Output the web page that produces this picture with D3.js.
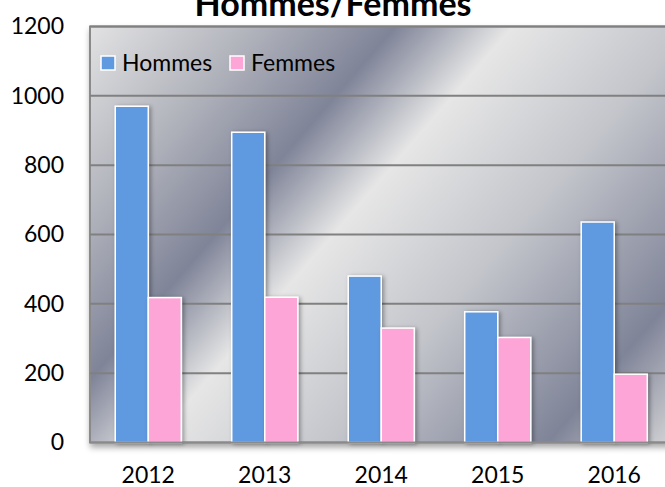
<!DOCTYPE html>
<html lang="fr">
<head>
<meta charset="UTF-8">
<title>Hommes/Femmes</title>
<style>
  body { margin: 0; background: #fff; }
  svg text { font-family: Lato, "Open Sans", sans-serif; fill: #000; }
</style>
</head>
<body>
<script src="https://cdn.jsdelivr.net/npm/d3@7"></script>
<script>

var years = ["2012", "2013", "2014", "2015", "2016"];
var series = ["Hommes", "Femmes"];
var hommes = [970, 895, 480, 377, 636];
var femmes = [418, 419, 330, 303, 197];
var yTicks = [0, 200, 400, 600, 800, 1000, 1200];

var colors = { Hommes: "#5f99e0", Femmes: "#fea5d8" };

var width = 665, height = 487;
// plot box (right edge runs past the window, as in the original)
var plotLeft = 90, plotRight = 672.5, plotTop = 26.5, plotBottom = 442.5;

var svg = d3.select("body").append("svg")
    .attr("width", width)
    .attr("height", height);

var defs = svg.append("defs");

// metallic background, bands run diagonally
var L = 711;
var grad = defs.append("linearGradient")
    .attr("id", "chrome")
    .attr("gradientUnits", "userSpaceOnUse")
    .attr("x1", plotLeft).attr("y1", plotTop)
    .attr("x2", plotLeft + L * 0.756).attr("y2", plotTop + L * 0.654);
[
  [0.00, "#e2e2e3"],
  [0.17, "#b3b5bd"],
  [0.325, "#7f8498"],
  [0.45, "#e6e6e6"],
  [0.64, "#c3c5cb"],
  [0.87, "#7f8498"],
  [1.00, "#d2d2d4"]
].forEach(function(s) {
  grad.append("stop").attr("offset", s[0]).attr("stop-color", s[1]);
});

var shadow = defs.append("filter").attr("id", "plotShadow")
    .attr("x", "-5%").attr("y", "-5%").attr("width", "115%").attr("height", "115%");
shadow.append("feDropShadow")
    .attr("dx", 1).attr("dy", 4).attr("stdDeviation", 3)
    .attr("flood-color", "#000").attr("flood-opacity", 0.35);

var barShadow = defs.append("filter").attr("id", "barShadow")
    .attr("x", "-30%").attr("y", "-10%").attr("width", "160%").attr("height", "120%");
barShadow.append("feDropShadow")
    .attr("dx", 2).attr("dy", 1).attr("stdDeviation", 2)
    .attr("flood-color", "#000").attr("flood-opacity", 0.35);

var x0 = d3.scaleBand()
    .domain(years)
    .range([plotLeft, plotRight])
    .paddingInner(0.433)
    .paddingOuter(0.2167);

var x1 = d3.scaleBand()
    .domain(series)
    .range([0, x0.bandwidth()]);

var y = d3.scaleLinear()
    .domain([0, 1200])
    .range([plotBottom, plotTop]);

// plot area
svg.append("rect")
    .attr("x", plotLeft).attr("y", plotTop)
    .attr("width", plotRight - plotLeft).attr("height", plotBottom - plotTop)
    .attr("fill", "url(#chrome)")
    .attr("stroke", "#8a8a8a")
    .attr("stroke-width", 2)
    .attr("filter", "url(#plotShadow)");

// gridlines
svg.append("g")
    .selectAll("line")
    .data(yTicks.slice(1))
    .join("line")
    .attr("x1", plotLeft).attr("x2", plotRight)
    .attr("y1", function(d) { return y(d); })
    .attr("y2", function(d) { return y(d); })
    .attr("stroke", "#808080")
    .attr("stroke-width", 2);

// y axis labels
var yAxis = d3.axisLeft(y).tickValues(yTicks).tickFormat(d3.format("d"))
    .tickSize(0).tickPadding(26);
var yg = svg.append("g").attr("transform", "translate(" + plotLeft + ",0)").call(yAxis);
yg.select(".domain").remove();
yg.selectAll("text").attr("font-size", 23).style("font-family", "Lato, sans-serif");

// x axis labels
var xAxis = d3.axisBottom(x0).tickSize(0).tickPadding(24);
var xg = svg.append("g").attr("transform", "translate(0," + plotBottom + ")").call(xAxis);
xg.select(".domain").remove();
xg.selectAll("text").attr("font-size", 23).style("font-family", "Lato, sans-serif");

// bars
var rows = years.map(function(yr, i) {
  return { year: yr, values: [
    { key: "Hommes", value: hommes[i] },
    { key: "Femmes", value: femmes[i] }
  ] };
});

svg.append("g")
    .selectAll("g")
    .data(rows)
    .join("g")
    .attr("transform", function(d) { return "translate(" + x0(d.year) + ",0)"; })
    .selectAll("rect")
    .data(function(d) { return d.values; })
    .join("rect")
    .attr("x", function(d) { return x1(d.key); })
    .attr("y", function(d) { return y(d.value); })
    .attr("width", x1.bandwidth())
    .attr("height", function(d) { return plotBottom - y(d.value); })
    .attr("fill", function(d) { return colors[d.key]; })
    .attr("stroke", "#ffffff")
    .attr("stroke-width", 1.5)
    .attr("filter", "url(#barShadow)");

// redraw bottom border over the bars
svg.append("line")
    .attr("x1", plotLeft).attr("x2", plotRight)
    .attr("y1", plotBottom).attr("y2", plotBottom)
    .attr("stroke", "#8a8a8a").attr("stroke-width", 2);

// legend
var legend = svg.append("g").attr("transform", "translate(101,63)");
var lx = [0, 129];
series.forEach(function(s, i) {
  var g = legend.append("g").attr("transform", "translate(" + lx[i] + ",0)");
  g.append("rect")
      .attr("x", 0).attr("y", -7)
      .attr("width", 14).attr("height", 14)
      .attr("fill", colors[s])
      .attr("stroke", "#fff").attr("stroke-width", 1.5);
  g.append("text")
      .attr("x", 21).attr("y", 0)
      .attr("dy", "0.35em")
      .attr("font-size", 23)
      .text(s);
});

// title (clipped at top like the original)
svg.append("text")
    .attr("x", 333).attr("y", 16)
    .attr("text-anchor", "middle")
    .attr("font-size", 34)
    .attr("font-weight", "bold")
    .text("Hommes/Femmes");

</script>
</body>
</html>
